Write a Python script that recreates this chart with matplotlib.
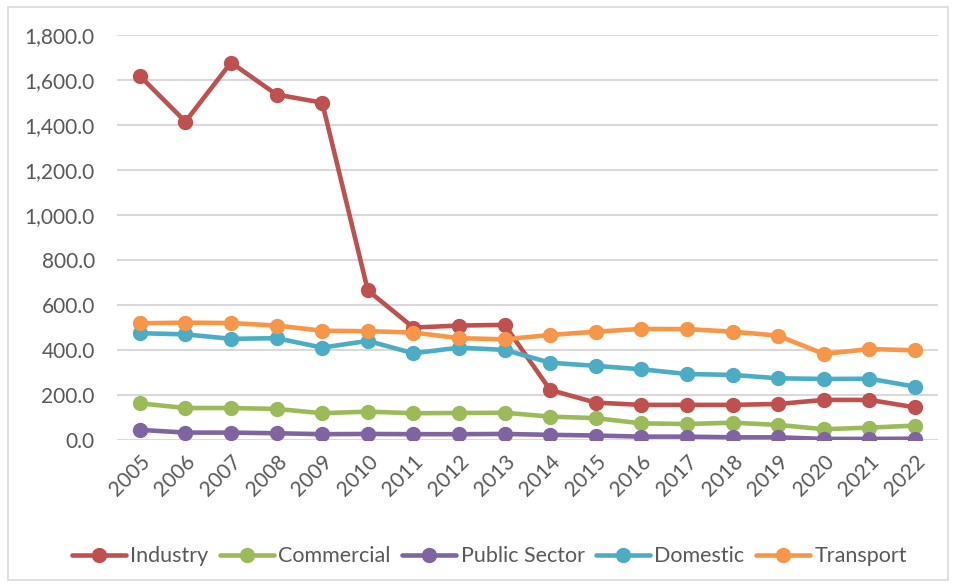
import matplotlib
matplotlib.use('Agg')
import matplotlib.pyplot as plt
from matplotlib.patches import Rectangle
from matplotlib.ticker import FuncFormatter

plt.rcParams['font.family'] = ['Lato', 'DejaVu Sans']

years = [str(y) for y in range(2005, 2023)]
industry = [1617, 1414, 1676, 1534, 1498, 665, 500, 509, 512, 223, 167, 157, 157, 157, 161, 179, 179, 146]
commercial = [164, 143, 143, 139, 120, 127, 120, 121, 122, 105, 98, 75, 72, 78, 68, 49, 56, 65]
public_sector = [46, 34, 34, 31, 27, 28, 27, 27, 28, 24, 21, 16, 16, 13, 13, 6, 6, 7]
domestic = [475, 470, 450, 453, 411, 441, 386, 411, 401, 344, 330, 315, 294, 290, 275, 272, 273, 238]
transport = [519, 522, 520, 509, 486, 484, 478, 453, 448, 467, 482, 494, 493, 482, 464, 383, 405, 399]

series = [
    ('Industry', industry, '#C0504D'),
    ('Commercial', commercial, '#9BBB59'),
    ('Public Sector', public_sector, '#8064A2'),
    ('Domestic', domestic, '#4BACC6'),
    ('Transport', transport, '#F79646'),
]

fig = plt.figure(figsize=(9.56, 5.87), dpi=100)
ax = fig.add_axes([0.1224, 0.250, 0.8586, 0.691])

x = range(len(years))
for name, vals, col in series:
    ax.plot(x, vals, color=col, lw=3.3, marker='o', ms=10, label=name, solid_capstyle='round')

ax.set_xlim(-0.5, len(years) - 0.5)
ax.set_ylim(0, 1800)
ax.set_yticks(range(0, 1801, 200))
ax.yaxis.set_major_formatter(FuncFormatter(lambda v, p: f'{v:,.1f}'))
ax.set_xticks(list(x))
ax.set_xticklabels(years, rotation=45, ha='right', rotation_mode='anchor')
ax.grid(axis='y', color='#D9D9D9', lw=1.5)
ax.set_axisbelow(True)
for s in ax.spines.values():
    s.set_visible(False)
ax.tick_params(length=0, colors='#595959', labelsize=15)
ax.tick_params(axis='y', pad=16)
ax.tick_params(axis='x', pad=8)

fig.legend(loc='center', bbox_to_anchor=(0.512, 0.052), ncol=5, frameon=False,
           fontsize=15.5, labelcolor='#595959', handlelength=2.5, handletextpad=0.2,
           columnspacing=0.55)

fig.patches.append(Rectangle((8 / 956, 1 - 580 / 587), 940 / 956, 573 / 587,
                             transform=fig.transFigure, fill=False,
                             edgecolor='#D9D9D9', lw=1.2))

fig.savefig('out.png', dpi=100)
